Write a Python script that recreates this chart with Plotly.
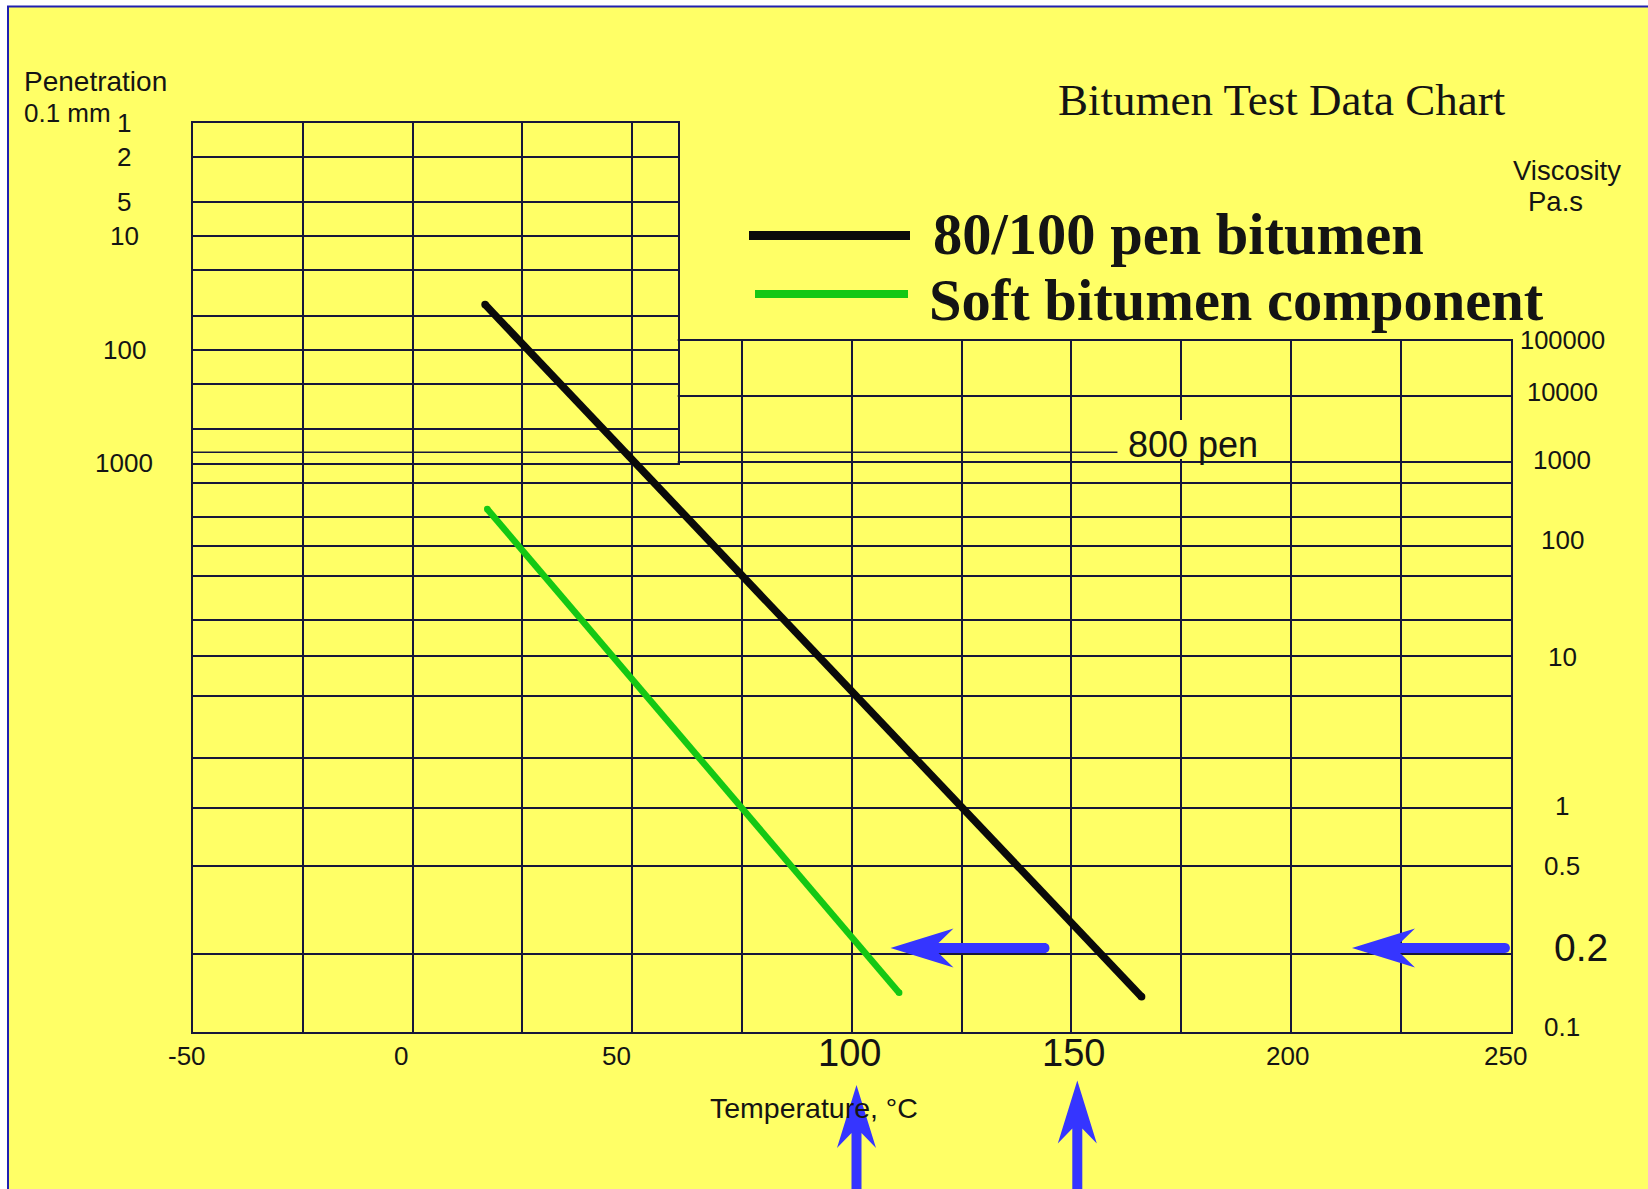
import numpy as np
import plotly.graph_objects as go

# ---------------------------------------------------------------- data ----
# 80/100 pen bitumen: the upper end is read on the penetration scale (0.1 mm),
# the lower end on the viscosity scale (Pa.s)
temp_80_100 = [16.5, 166.0]
scale_80_100 = ["pen", "visc"]
value_80_100 = [40.0, 0.137]

# soft bitumen component, both ends on the viscosity scale (Pa.s)
temp_soft = [17.0, 110.8]
scale_soft = ["visc", "visc"]
value_soft = [250.0, 0.142]

# 800 pen reference line
temp_pen800 = [-50, 160.5]
value_pen800 = 800

# axis grids and labels
temp_grid = list(range(-50, 251, 25))
temp_labels = [-50, 0, 50, 100, 150, 200, 250]
pen_grid = [1, 2, 5, 10, 20, 50, 100, 200, 500, 1000]
pen_labels = [1, 2, 5, 10, 100, 1000]
visc_grid = [0.1, 0.2, 0.5, 1, 2, 5, 10, 20, 50, 100, 200, 500, 1000, 1e4, 1e5]
# height of each viscosity grid line above the 0.1 Pa.s line (chart units)
visc_grid_height = [0, 78, 166.3, 224, 274, 336.3, 376.3, 412.3, 456.3,
                    486.8, 515, 549, 570.3, 636.6, 691.3]
visc_labels = [0.1, 0.2, 0.5, 1, 10, 100, 1000, 10000, 100000]
visc_label_text = ["0.1", "0.2", "0.5", "1", "10", "100", "1000", "10000", "100000"]

# penetration scale (logarithmic): height of 1 dmm and length of one decade
PEN_TOP = 909.6
PEN_DECADE = 113.5
PEN_BOX_TMAX = 60.4


def visc_h(v):
    return float(np.interp(np.log10(v), np.log10(visc_grid), visc_grid_height))


def pen_h(p):
    return PEN_TOP - PEN_DECADE * np.log10(p)


def chart_h(scale, v):
    return pen_h(v) if scale == "pen" else visc_h(v)


# ------------------------------------------------------------- geometry ---
W, H = 1648, 1189
GX0, GX1 = 193.0, 1510.5      # grid left / right (px)
GY0 = 1032.3                  # grid bottom (px)
BOX_X1 = GX0 + (PEN_BOX_TMAX + 50) / 300 * (GX1 - GX0)


def fx(px):
    return px / W


def fy(py):
    return 1 - py / H


YELLOW = "#FFFF66"
GRID = "#16163a"
BLUE = "#3535FF"
INK = "#141414"
SANS = "Liberation Sans, Arial, sans-serif"
SERIF = "Liberation Serif, Times New Roman, serif"

fig = go.Figure()

# empty traces to hold the grid subplots
fig.add_trace(go.Scatter(x=[], y=[], xaxis="x", yaxis="y", showlegend=False))
fig.add_trace(go.Scatter(x=[], y=[], xaxis="x2", yaxis="y2", showlegend=False))

# 800 pen line
fig.add_trace(go.Scatter(
    x=temp_pen800, y=[pen_h(value_pen800)] * len(temp_pen800),
    mode="lines", line=dict(color=GRID, width=1.5),
    xaxis="x3", yaxis="y3", showlegend=False, hoverinfo="skip"))

# bitumen lines
fig.add_trace(go.Scatter(
    x=temp_soft, y=[chart_h(s, v) for s, v in zip(scale_soft, value_soft)],
    mode="lines+markers", line=dict(color="#14C814", width=6.5),
    marker=dict(size=6.5, color="#14C814"),
    xaxis="x3", yaxis="y3", name="Soft bitumen component", showlegend=False))
fig.add_trace(go.Scatter(
    x=temp_80_100, y=[chart_h(s, v) for s, v in zip(scale_80_100, value_80_100)],
    mode="lines+markers", line=dict(color="#0a0a0a", width=7.5),
    marker=dict(size=7.5, color="#0a0a0a"),
    xaxis="x3", yaxis="y3", name="80/100 pen bitumen", showlegend=False))

grid_axis = dict(showgrid=True, gridcolor=GRID, gridwidth=2, showticklabels=False,
                 ticks="", zeroline=False, showline=True, mirror=True,
                 linecolor=GRID, linewidth=2, fixedrange=True)

fig.update_layout(
    width=W, height=H, autosize=False,
    margin=dict(l=0, r=0, t=0, b=0),
    paper_bgcolor="white", plot_bgcolor="rgba(0,0,0,0)",
    showlegend=False,
    xaxis=dict(domain=[fx(GX0), fx(GX1)], range=[-50, 250], tickvals=temp_grid,
               anchor="y", **grid_axis),
    yaxis=dict(domain=[fy(GY0), fy(GY0 - visc_grid_height[-1])],
               range=[0, visc_grid_height[-1]],
               tickvals=[visc_h(v) for v in visc_grid], anchor="x", **grid_axis),
    xaxis2=dict(domain=[fx(GX0), fx(BOX_X1)], range=[-50, PEN_BOX_TMAX],
                tickvals=[t for t in temp_grid if t <= PEN_BOX_TMAX], anchor="y2",
                **grid_axis),
    yaxis2=dict(domain=[fy(GY0 - pen_h(1000)), fy(GY0 - pen_h(1))],
                range=[pen_h(1000), pen_h(1)],
                tickvals=[pen_h(p) for p in pen_grid], anchor="x2", **grid_axis),
    xaxis3=dict(domain=[fx(GX0), fx(GX1)], range=[-50, 250], visible=False,
                anchor="y3", fixedrange=True),
    yaxis3=dict(domain=[fy(GY0), fy(GY0 - pen_h(1))], range=[0, pen_h(1)],
                visible=False, anchor="x3", fixedrange=True),
)

shapes = []
# page background with its blue frame
shapes.append(dict(type="rect", xref="paper", yref="paper", x0=fx(8), x1=1.05,
                   y0=-0.05, y1=fy(6.5), fillcolor=YELLOW,
                   line=dict(color="#2020B0", width=2), layer="below"))
# opaque penetration panel, hides the viscosity grid behind it
shapes.append(dict(type="rect", xref="x2", yref="y2", x0=-50, x1=PEN_BOX_TMAX,
                   y0=pen_h(1000), y1=pen_h(1), fillcolor=YELLOW,
                   line=dict(width=0), layer="below"))
# backing behind the "800 pen" label
shapes.append(dict(type="rect", xref="paper", yref="paper", x0=fx(1124), x1=fx(1260),
                   y0=fy(459), y1=fy(420), fillcolor=YELLOW, line=dict(width=0),
                   layer="above"))
# legend keys
shapes.append(dict(type="line", xref="paper", yref="paper", x0=fx(749), x1=fx(910),
                   y0=fy(235.5), y1=fy(235.5), line=dict(color="#0a0a0a", width=9),
                   layer="above"))
shapes.append(dict(type="line", xref="paper", yref="paper", x0=fx(755), x1=fx(908),
                   y0=fy(294), y1=fy(294), line=dict(color="#14C814", width=8),
                   layer="above"))


def arrow_path(tx, ty, length, direction):
    """Filled block arrow; tip at (tx, ty) in page px, pointing left or up."""
    head_len, head_half, notch, shaft = 63, 19.5, 48, 5
    local = [("M", [(0, 0)]), ("L", [(head_len, -head_half)]), ("L", [(notch, -shaft)]),
             ("L", [(length, -shaft)]),
             ("C", [(length + 6.6, -shaft), (length + 6.6, shaft), (length, shaft)]),
             ("L", [(notch, shaft)]), ("L", [(head_len, head_half)])]
    parts = []
    for cmd, pts in local:
        coords = []
        for u, v in pts:
            if direction == "left":
                px, py = tx + u, ty + v
            else:
                px, py = tx + v, ty + u
            coords.append(f"{fx(px):.6f},{fy(py):.6f}")
        parts.append(cmd + " ".join(coords))
    return " ".join(parts) + " Z"


for tx, ty, ln, d in [(890.5, 948, 154, "left"), (1352, 948, 153, "left"),
                      (856.5, 1085, 130, "up"), (1077.3, 1080.5, 130, "up")]:
    shapes.append(dict(type="path", xref="paper", yref="paper",
                       path=arrow_path(tx, ty, ln, d), fillcolor=BLUE,
                       line=dict(width=0), layer="above"))

fig.update_layout(shapes=shapes)

ann = []


def label(text, x, y, size, xref="paper", yref="paper", xanchor="center",
          family=SANS, **kw):
    ann.append(dict(text=text, x=x, y=y, xref=xref, yref=yref, xanchor=xanchor,
                    yanchor="middle", showarrow=False,
                    font=dict(family=family, size=size, color=INK), **kw))


# title and legend text
label("Bitumen Test Data Chart", fx(1056), fy(100), 45, xanchor="left", family=SERIF)
label("<b>80/100 pen bitumen</b>", fx(931), fy(234.5), 58.5, xanchor="left", family=SERIF)
label("<b>Soft bitumen component</b>", fx(927), fy(300), 58.5, xanchor="left", family=SERIF)

# axis titles
label("Penetration", fx(22), fy(81), 28, xanchor="left")
label("0.1 mm", fx(22), fy(113), 26, xanchor="left")
label("Viscosity", fx(1567), fy(171), 27.5)
label("Pa.s", fx(1555), fy(202), 27.5)
label("Temperature, °C", fx(814), fy(1108), 28.5)
label("800 pen", fx(1126), fy(445), 36, xanchor="left")

# penetration scale labels
for p in pen_labels:
    label(str(p), fx(124.3), pen_h(p), 26, yref="y2")

# viscosity scale labels
visc_size = {0.2: 39, 10000: 25.5, 100000: 25.5}
visc_x = {0.2: 1581}
visc_shift = {0.1: 5, 0.2: 7, 0.5: 0, 1: 2.5, 10: -1, 100: 5, 1000: 2, 10000: 4, 100000: 1}
for v, t in zip(visc_labels, visc_label_text):
    label(t, fx(visc_x.get(v, 1562)), visc_h(v), visc_size.get(v, 26), yref="y",
          yshift=visc_shift.get(v, 0))

# temperature labels
temp_big = {100, 150}
temp_shift = {-50: -6, 0: -12, 50: -16, 100: -2, 150: 2, 200: -3, 250: -5}
for t in temp_labels:
    big = t in temp_big
    label(str(t), t, fy(1052.5 if big else 1056), 38 if big else 26, xref="x",
          xshift=temp_shift.get(t, 0))

fig.update_layout(annotations=ann)

fig.write_html("out.html", include_plotlyjs=True,
               config={"displayModeBar": False, "staticPlot": True},
               post_script="document.body.style.margin='0';")
